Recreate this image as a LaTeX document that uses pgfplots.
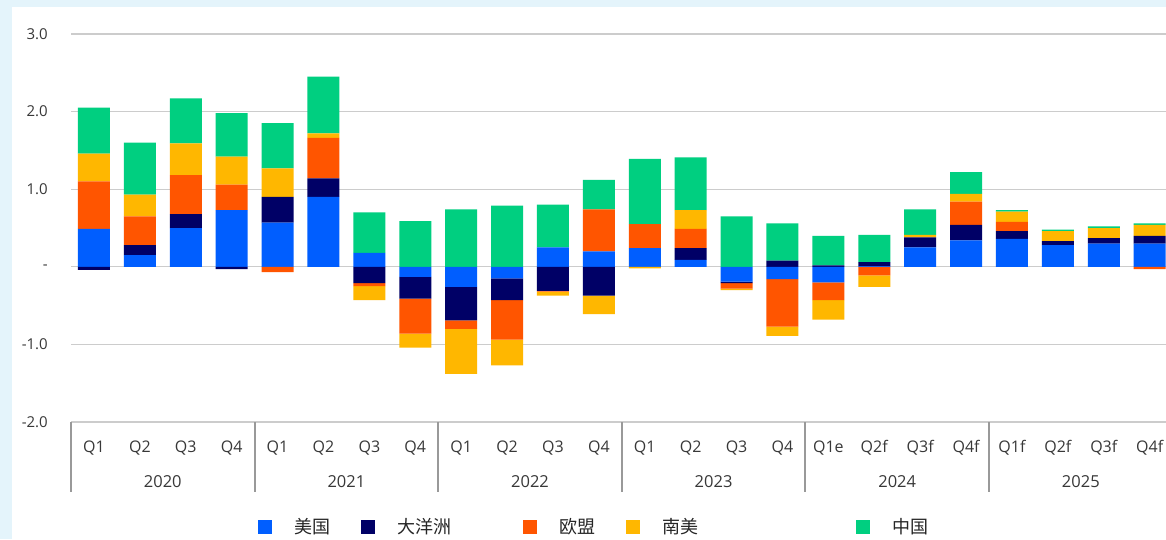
\documentclass[border=0pt]{standalone}
\usepackage{pgfplots}
\pgfplotsset{compat=1.18}
\usepackage{pgfplotstable}
\usepackage{fontspec}
\setmainfont{Open Sans}
\newfontfamily\cjk{Noto Sans CJK SC}

\definecolor{cUS}{HTML}{005EFF}
\definecolor{cOC}{HTML}{000066}
\definecolor{cEU}{HTML}{FF5500}
\definecolor{cSA}{HTML}{FFB700}
\definecolor{cCN}{HTML}{00CF80}
\definecolor{bgblue}{HTML}{E4F4FB}
\definecolor{txt}{HTML}{383838}

% positive contributions, stacked upwards
\pgfplotstableread{
x  us   oc   eu   sa   cn
0  0.49 0    0.61 0.36 0.59
1  0.15 0.13 0.37 0.28 0.67
2  0.50 0.18 0.50 0.41 0.58
3  0.73 0    0.33 0.36 0.56
4  0.57 0.33 0    0.37 0.58
5  0.90 0.24 0.52 0.06 0.73
6  0.18 0    0    0    0.52
7  0    0    0    0    0.59
8  0    0    0    0    0.74
9  0    0    0    0    0.79
10 0.25 0    0    0    0.55
11 0.20 0    0.54 0    0.38
12 0.24 0    0.31 0    0.84
13 0.09 0.15 0.25 0.24 0.68
14 0    0    0    0    0.65
15 0    0.08 0    0    0.48
16 0    0.02 0    0    0.38
17 0.01 0.05 0    0    0.35
18 0.25 0.13 0    0.03 0.33
19 0.34 0.20 0.30 0.10 0.28
20 0.36 0.10 0.12 0.13 0.02
21 0.28 0.05 0    0.13 0.02
22 0.30 0.07 0    0.13 0.02
23 0.30 0.10 0    0.14 0.02
}\pos

% negative contributions, stacked downwards
\pgfplotstableread{
x  us    oc    eu    sa
0  0     -0.04 0     0
1  0     0     0     0
2  0     0     0     0
3  0     -0.03 0     0
4  0     0     -0.07 0
5  0     0     0     0
6  0     -0.21 -0.04 -0.18
7  -0.13 -0.28 -0.45 -0.18
8  -0.26 -0.43 -0.11 -0.58
9  -0.15 -0.28 -0.51 -0.33
10 0     -0.31 -0.01 -0.05
11 0     -0.37 0     -0.24
12 0     0     0     -0.02
13 0     0     0     0
14 -0.19 -0.02 -0.07 -0.02
15 -0.16 0     -0.61 -0.12
16 -0.20 0     -0.23 -0.25
17 0     0     -0.11 -0.15
18 0     0     0     0
19 0     0     0     0
20 0     0     0     0
21 0     0     0     0
22 0     0     0     0
23 0     0     -0.03 0
}\negs

\pgfplotsset{
  base/.style={
    at={(71pt,117pt)}, anchor=south west,
    scale only axis, width=1095pt, height=388pt,
    xmin=-0.5, xmax=23.356, ymin=-2, ymax=3,
    ybar stacked, bar width=32pt, clip=false,
  },
  sq legend/.style={legend image code/.code={\fill[##1] (0pt,-7pt) rectangle (14pt,7pt);}},
}
\tikzset{yr/.style={anchor=base, inner sep=0pt, text=txt, font=\fontsize{16.5}{18}\selectfont, yshift=-65pt}}

\begin{document}
\begin{tikzpicture}
\path[use as bounding box] (0,0) rectangle (1166pt,539pt);
\clip (0,0) rectangle (1166pt,539pt);
\fill[bgblue] (0,0) rectangle (1166pt,539pt);
\fill[white] (12pt,0) rectangle (1166pt,532pt);

\begin{axis}[base,
  axis line style={draw=none},
  major tick length=0pt,
  ytick={-2,-1,1,2,3},
  yticklabels={-2.0,-1.0,1.0,2.0,3.0},
  extra y ticks={0},
  extra y tick labels={-\hspace{5pt}},
  extra y tick style={grid style={draw=gray!85, line width=1.3pt}},
  ymajorgrids,
  major grid style={draw=black!20, line width=1.3pt},
  yticklabel style={anchor=east, inner sep=0pt, xshift=-23pt, font=\fontsize{15}{17}\selectfont, text=txt},
  xtick={0,...,23},
  xticklabels={Q1,Q2,Q3,Q4,Q1,Q2,Q3,Q4,Q1,Q2,Q3,Q4,Q1,Q2,Q3,Q4,Q1e,Q2f,Q3f,Q4f,Q1f,Q2f,Q3f,Q4f},
  xticklabel style={anchor=base, inner sep=0pt, yshift=-30pt, font=\fontsize{16}{18}\selectfont, text=txt},
  legend columns=-1,
  legend style={draw=none, fill=none, at={(0.1708,-0.2706)}, anchor=west,
    inner sep=0pt, nodes={inner sep=0pt},
    font=\cjk\fontsize{18}{20}\selectfont, text=black!85,
    /tikz/every odd column/.append style={column sep=22pt},
    /tikz/every even column/.append style={column sep=31pt}},
]
\addplot[fill=cUS, draw=none, sq legend] table[x=x, y=us] {\pos};
\addlegendentry{美国}
\addplot[fill=cOC, draw=none, sq legend] table[x=x, y=oc] {\pos};
\addlegendentry{大洋洲\rule{41pt}{0pt}}
\addplot[fill=cEU, draw=none, sq legend] table[x=x, y=eu] {\pos};
\addlegendentry{欧盟}
\addplot[fill=cSA, draw=none, sq legend] table[x=x, y=sa] {\pos};
\addlegendentry{南美\rule{127pt}{0pt}}
\addplot[fill=cCN, draw=none, sq legend] table[x=x, y=cn] {\pos};
\addlegendentry{中国}

% year separators and year labels
\pgfplotsinvokeforeach{-0.5,3.5,7.5,11.5,15.5,19.5,23.5}{
  \draw[gray!80, line width=2pt] (axis cs:#1,-2) -- ([yshift=-70pt]axis cs:#1,-2);
}
\node[yr] at (axis cs:1.5,-2) {2020};
\node[yr] at (axis cs:5.5,-2) {2021};
\node[yr] at (axis cs:9.5,-2) {2022};
\node[yr] at (axis cs:13.5,-2) {2023};
\node[yr] at (axis cs:17.5,-2) {2024};
\node[yr] at (axis cs:21.5,-2) {2025};
\end{axis}

\begin{axis}[base, hide axis]
\addplot[fill=cUS, draw=none] table[x=x, y=us] {\negs};
\addplot[fill=cOC, draw=none] table[x=x, y=oc] {\negs};
\addplot[fill=cEU, draw=none] table[x=x, y=eu] {\negs};
\addplot[fill=cSA, draw=none] table[x=x, y=sa] {\negs};
\end{axis}
\end{tikzpicture}
\end{document}
